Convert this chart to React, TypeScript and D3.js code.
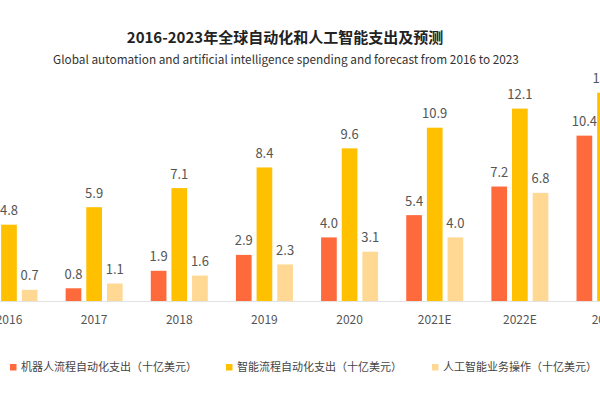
import React from "react";
import * as d3 from "d3";

const categories = ["2016", "2017", "2018", "2019", "2020", "2021E", "2022E", "2023"];
const rpaSpending = [0.4, 0.8, 1.9, 2.9, 4.0, 5.4, 7.2, 10.4];
const ipaSpending = [4.8, 5.9, 7.1, 8.4, 9.6, 10.9, 12.1, 13.1];
const aiOps = [0.7, 1.1, 1.6, 2.3, 3.1, 4.0, 6.8, 9.0];
const seriesNames = [
  "机器人流程自动化支出（十亿美元）",
  "智能流程自动化支出（十亿美元）",
  "人工智能业务操作（十亿美元）",
];
const title = "2016-2023年全球自动化和人工智能支出及预测";
const subtitle = "Global automation and artificial intelligence spending and forecast from 2016 to 2023";

const colors = ["#FF6A3D", "#FFC000", "#FFD894"];
const FONT = "'Noto Sans CJK SC', 'Noto Sans', sans-serif";

export default function App() {
  const W = 600;
  const H = 400;
  const baseline = 301;
  const x = d3
    .scaleBand<string>()
    .domain(categories)
    .range([-33.6, 647.6])
    .paddingInner(0)
    .paddingOuter(0);
  const y = d3.scaleLinear().domain([0, 10]).range([baseline, baseline - 159]);
  const inner = d3
    .scaleBand<number>()
    .domain([0, 1, 2])
    .range([-28.5, 28.5])
    .paddingInner(0.24)
    .paddingOuter(0);
  const series = [rpaSpending, ipaSpending, aiOps];

  return (
    <div style={{ position: "absolute", left: 0, top: 0 }}>
      <svg width={W} height={H} style={{ display: "block", background: "#fff" }} fontFamily={FONT}>
        <text x={285} y={43} textAnchor="middle" fontSize={15} fontWeight="bold" fill="#222">
          {title}
        </text>
        <text x={286} y={64} textAnchor="middle" fontSize={11.8} fill="#333">
          {subtitle}
        </text>
        {categories.map((c, i) => {
          const cx = (x(c) ?? 0) + x.bandwidth() / 2;
          return (
            <g key={c}>
              {series.map((s, si) => {
                const bx = cx + (inner(si) ?? 0);
                const bw = inner.bandwidth();
                const v = s[i];
                return (
                  <g key={si}>
                    <rect x={bx} y={y(v)} width={bw} height={baseline - y(v)} fill={colors[si]} />
                    <text
                      x={bx + bw / 2}
                      y={y(v) - 9.5}
                      textAnchor="middle"
                      fontSize={13}
                      fill="#555"
                    >
                      {v.toFixed(1)}
                    </text>
                  </g>
                );
              })}
              <text x={cx} y={324} textAnchor="middle" fontSize={12} fill="#555">
                {c}
              </text>
            </g>
          );
        })}
        <line x1={0} x2={W} y1={baseline + 0.5} y2={baseline + 0.5} stroke="#e2e2e2" strokeWidth={1} />
        {seriesNames.map((n, i) => {
          const lx = [10, 226, 432][i];
          return (
            <g key={n}>
              <rect x={lx} y={364} width={6.5} height={6.5} fill={colors[i]} />
              <text x={lx + 11} y={371} fontSize={11} fill="#444">
                {n}
              </text>
            </g>
          );
        })}
      </svg>
    </div>
  );
}
